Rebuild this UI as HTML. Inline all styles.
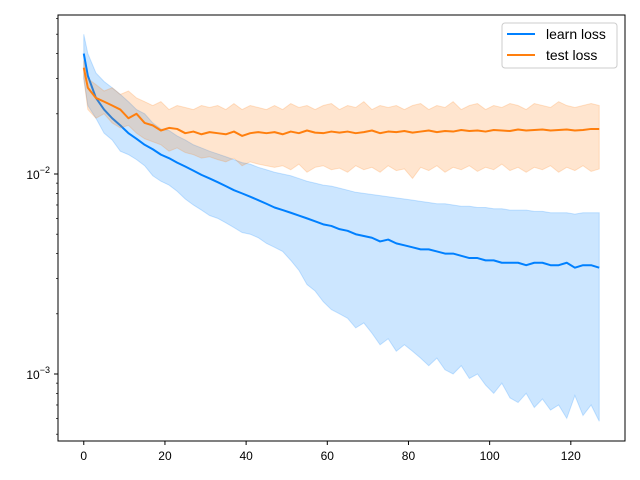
<!DOCTYPE html>
<html><head><meta charset="utf-8"><style>
body{margin:0;background:#fff;}
svg{display:block;font-family:"Liberation Sans","DejaVu Sans",sans-serif;}
</style></head><body>
<svg id="chart" width="640" height="480" xmlns="http://www.w3.org/2000/svg">
<rect width="640" height="480" fill="#fff"/>
<g id="plot"></g>
<g id="axes"></g>
<rect x="58" y="15" width="567" height="426" fill="none" stroke="#000" stroke-width="1"/>
<g>
<rect x="502" y="23" width="115" height="45" rx="3" fill="#fff" fill-opacity="0.8" stroke="#ccc"/>
<line x1="507" y1="34" x2="535" y2="34" stroke="#0080ff" stroke-width="2"/>
<text x="546" y="39" font-size="14">learn loss</text>
<line x1="507" y1="55" x2="535" y2="55" stroke="#ff7f0e" stroke-width="2"/>
<text x="546" y="60" font-size="14">test loss</text>
</g>
</svg>
<script>
const xs=[0,1,3,5,7,9,11,13,15,17,19,21,23,25,27,29,31,33,35,37,39,41,43,45,47,49,51,53,55,57,59,61,63,65,67,69,71,73,75,77,79,81,83,85,87,89,91,93,95,97,99,101,103,105,107,109,111,113,115,117,119,121,123,125,127];
const learnMean=[.040,.031,.024,.021,.019,.0175,.016,.015,.014,.0133,.0125,.012,.0114,.0109,.0104,.0099,.0095,.0091,.0087,.0083,.0080,.0077,.0074,.0071,.0068,.0066,.0064,.0062,.0060,.0058,.0056,.0055,.0053,.0052,.0050,.0049,.0048,.0046,.0047,.0045,.0044,.0043,.0042,.0042,.0041,.0040,.0040,.0039,.0038,.0038,.0037,.0037,.0036,.0036,.0036,.0035,.0036,.0036,.0035,.0035,.0036,.0034,.0035,.0035,.0034];
const learnHi=[.050,.040,.032,.029,.027,.025,.023,.021,.020,.018,.0168,.0165,.0155,.0148,.0140,.0135,.0130,.0126,.0122,.0118,.0114,.0112,.0108,.0105,.0102,.0100,.0098,.0095,.0092,.0090,.0088,.0087,.0085,.0083,.0081,.0080,.0079,.0078,.0077,.0076,.0075,.0074,.0073,.0072,.0071,.0071,.0070,.0069,.0069,.0068,.0068,.0067,.0067,.0066,.0066,.0066,.0065,.0065,.0064,.0064,.0064,.0063,.0064,.0064,.0064];
const learnLo=[.030,.022,.019,.016,.0148,.013,.0125,.0118,.011,.0098,.0092,.0088,.0082,.0075,.0070,.0066,.0062,.0060,.0057,.0054,.0051,.0050,.0048,.0045,.0043,.0041,.0037,.0033,.0028,.0026,.0023,.0021,.0020,.0019,.0017,.0018,.0016,.0014,.0015,.0013,.0014,.0013,.0012,.0011,.0012,.00105,.0010,.0011,.00095,.0010,.00088,.0008,.0009,.00076,.00072,.0008,.00068,.00075,.00066,.0007,.0006,.00078,.00062,.0007,.00058];
const testMean=[.034,.027,.024,.023,.022,.021,.019,.020,.018,.0175,.0165,.017,.0168,.016,.0163,.0158,.0162,.0160,.0158,.0163,.0155,.0160,.0162,.0160,.0162,.0158,.0163,.0160,.0165,.0161,.0160,.0163,.0161,.0163,.0160,.0162,.0165,.0160,.0163,.0162,.0164,.0161,.0163,.0165,.0162,.0164,.0163,.0166,.0164,.0165,.0163,.0166,.0165,.0164,.0167,.0165,.0166,.0167,.0165,.0166,.0167,.0165,.0166,.0168,.0168];
const testHi=[.037,.030,.028,.026,.027,.025,.026,.024,.023,.022,.023,.021,.022,.0215,.021,.022,.0215,.022,.021,.0225,.021,.022,.0215,.021,.022,.021,.0225,.0215,.022,.021,.022,.0225,.021,.022,.0215,.023,.021,.022,.0215,.022,.021,.022,.0225,.021,.022,.0215,.023,.021,.022,.0225,.021,.022,.0215,.0225,.022,.021,.0225,.022,.0215,.023,.022,.0215,.022,.0225,.022];
const testLo=[.030,.021,.019,.020,.018,.017,.0175,.016,.015,.0145,.014,.013,.0135,.0128,.0125,.012,.0122,.0118,.0115,.012,.011,.0115,.0112,.011,.0108,.011,.0105,.0112,.0102,.0108,.011,.0105,.0107,.0102,.011,.0105,.0108,.0102,.011,.0104,.0106,.0095,.0108,.0104,.011,.0102,.0108,.0105,.0110,.0103,.0108,.0105,.0112,.0104,.0108,.0102,.0108,.0105,.011,.0102,.0108,.0104,.0110,.0103,.0106];
const xTicks=[0,20,40,60,80,100,120];
const yMajor=[-3,-2];

const NS="http://www.w3.org/2000/svg";
const X0=58,X1=625,Y0=15,Y1=441;
const xMin=-6.35,xMax=133.35;
const lMin=Math.log10(10**(-3-67/200)),lMax=-2+159/200;
function sx(v){return X0+(v-xMin)/(xMax-xMin)*(X1-X0);}
function sy(v){return Y1-(Math.log10(v)-lMin)/(lMax-lMin)*(Y1-Y0);}
function mk(tag,attrs,parent){const e=document.createElementNS(NS,tag);for(const k in attrs)e.setAttribute(k,attrs[k]);parent.appendChild(e);return e;}
const plot=document.getElementById('plot'),axes=document.getElementById('axes');
const clip=mk('clipPath',{id:'clp'},plot);mk('rect',{x:X0,y:Y0,width:X1-X0,height:Y1-Y0},clip);
plot.setAttribute('clip-path','url(#clp)');
function band(hi,lo,color,name){
  const n=Math.min(xs.length,hi.length,lo.length);let d='';
  for(let i=0;i<n;i++)d+=(i?'L':'M')+sx(xs[i]).toFixed(2)+','+sy(hi[i]).toFixed(2);
  for(let i=n-1;i>=0;i--)d+='L'+sx(xs[i]).toFixed(2)+','+sy(lo[i]).toFixed(2);
  const p=mk('path',{d:d+'Z',fill:color,'fill-opacity':0.2,stroke:color,'stroke-opacity':0.2},plot);
  
  
}
function line(vals,color,name){
  const n=Math.min(xs.length,vals.length);let d='';
  for(let i=0;i<n;i++)d+=(i?'L':'M')+sx(xs[i]).toFixed(2)+','+sy(vals[i]).toFixed(2);
  const p=mk('path',{d:d,fill:'none',stroke:color,'stroke-width':2,'stroke-linejoin':'round'},plot);
  
  
}
band(learnHi,learnLo,'#0080ff','learn-loss-band');
line(learnMean,'#0080ff','learn-loss-line');
band(testHi,testLo,'#ff7f0e','test-loss-band');
line(testMean,'#ff7f0e','test-loss-line');
xTicks.forEach(t=>{
  const x=sx(t);
  const tk=mk('line',{x1:x,y1:Y1,x2:x,y2:Y1+4,stroke:'#000'},axes);
  
  
  const tx=mk('text',{x:x,y:Y1+19,'font-size':12,'text-anchor':'middle'},axes);
  tx.textContent=t;
  
  
});
for(let e=-4;e<=-1;e++){for(let m=1;m<10;m++){
  const v=m*10**e;const y=sy(v);if(y<Y0||y>Y1)continue;
  const tk=mk('line',{x1:X0-(m===1?4:2),y1:y,x2:X0,y2:y,stroke:'#000','stroke-width':m===1?1:0.7},axes);
  
  
}}
yMajor.forEach(e=>{
  const y=sy(10**e);
  const tx=mk('text',{x:X0-8,y:y+5,'font-size':12,'text-anchor':'end'},axes);
  
  
  const t1=mk('tspan',{},tx);t1.textContent='10';
  const t2=mk('tspan',{dy:-6,'font-size':9},tx);t2.textContent='−'+(-e);
});
</script>
</body></html>
